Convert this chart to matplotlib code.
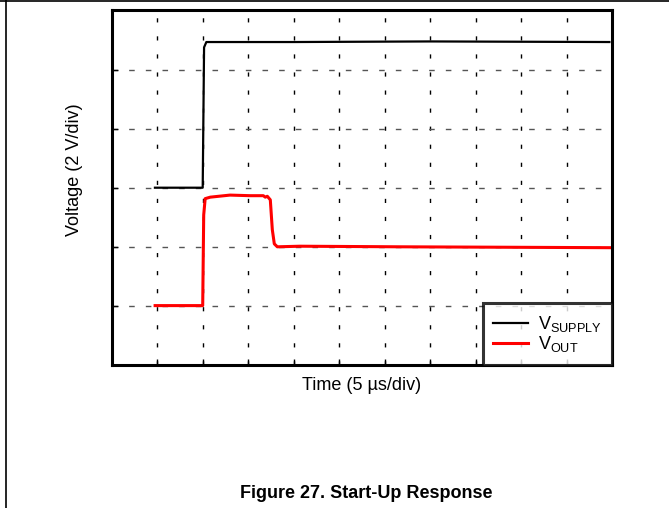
import matplotlib.pyplot as plt
from matplotlib.lines import Line2D

plt.rcParams['font.family'] = ['Liberation Sans', 'DejaVu Sans']
plt.rcParams['mathtext.fontset'] = 'custom'
plt.rcParams['mathtext.rm'] = 'Liberation Sans'

# time in us (5 us/div), voltage in V (2 V/div)
supply_t = [4.75, 10.0, 10.15, 10.4, 20.0, 35.0, 54.7]
supply_v = [6.0, 6.0, 10.75, 10.93, 10.93, 10.95, 10.93]

out_t = [4.77, 10.0, 10.11, 10.27, 10.83, 13.0, 15.2, 16.66, 16.88, 17.1,
         17.43, 17.65, 17.87, 18.2, 20.7, 31.75, 54.76]
out_v = [2.01, 2.01, 5.08, 5.63, 5.68, 5.75, 5.73, 5.73, 5.68, 5.71,
         5.59, 4.58, 4.10, 4.0, 4.02, 4.0, 3.97]

fig = plt.figure(figsize=(6.69, 5.08), dpi=100)
ax = fig.add_axes([0.167, 0.2815, 0.748, 0.698])

ax.plot(supply_t, supply_v, color='black', lw=1.6, label=r'V$_{\mathrm{SUPPLY}}$')
ax.plot(out_t, out_v, color='#ff0000', lw=2.2, label=r'V$_{\mathrm{OUT}}$')

ax.set_xlim(0, 55)
ax.set_ylim(0, 12)
ax.set_xticks(range(0, 56, 5))
ax.set_yticks(range(0, 13, 2))
ax.tick_params(direction='in', length=4, width=1, labelbottom=False, labelleft=False)
ax.xaxis.grid(True, color='black', ls=(0, (3, 10)), lw=1.0)
ax.yaxis.grid(True, color='#555555', ls=(0, (4, 8)), lw=1.0)
for s in ax.spines.values():
    s.set_linewidth(2.2)

ax.set_xlabel('Time (5 µs/div)', fontsize=13, labelpad=9)
ax.set_ylabel('Voltage (2 V/div)', fontsize=13)
ax.yaxis.set_label_coords(-0.057, 0.55)

leg = ax.legend(loc='lower right', fontsize=13, frameon=True, fancybox=False,
                borderaxespad=0, handlelength=1.9, handletextpad=0.55,
                labelspacing=0.0, borderpad=0.6)
leg.get_frame().set_edgecolor('black')
leg.get_frame().set_linewidth(2.2)

fig.text(0.548, 0.029, 'Figure 27. Start-Up Response', ha='center', va='center',
         fontsize=13, fontweight='bold')

# page frame
fig.add_artist(Line2D([0, 1], [0.998, 0.998], color='black', lw=1.2))
fig.add_artist(Line2D([0.009, 0.009], [0, 1], color='black', lw=1.2))

fig.savefig('out.png', dpi=100)
